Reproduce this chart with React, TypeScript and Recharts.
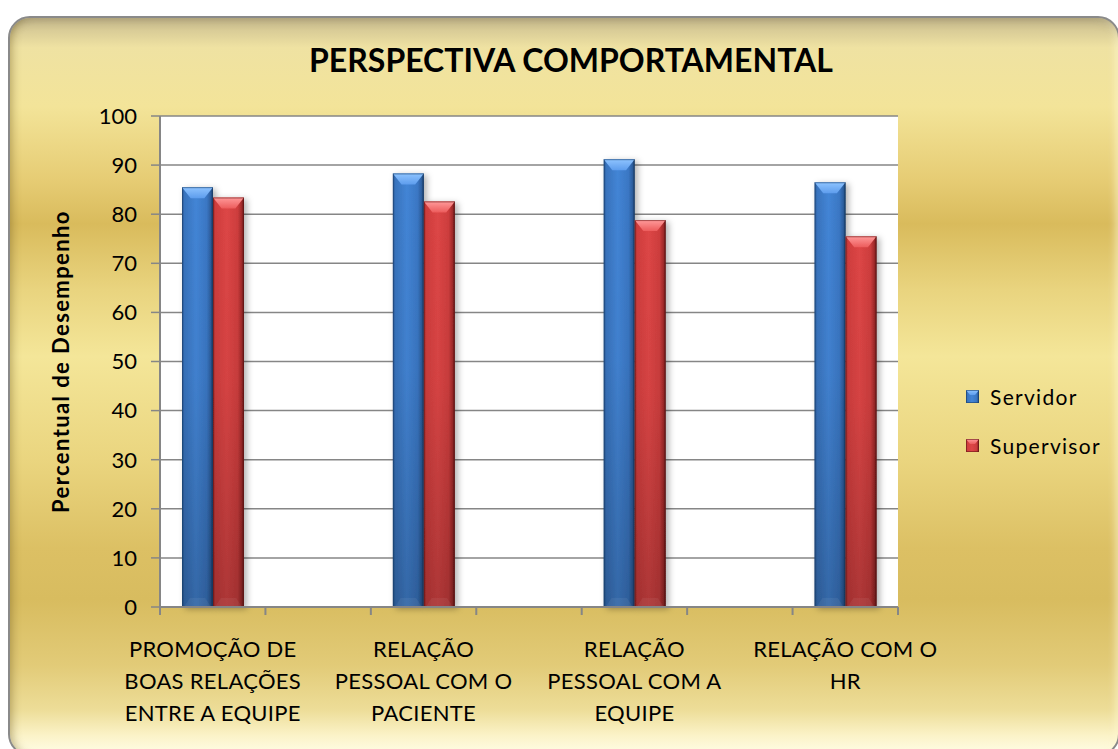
import React from "react";
import { BarChart, Bar, XAxis, YAxis, CartesianGrid, Legend } from "recharts";

// ---- data ----
const categories = [
  "PROMOÇÃO DE\nBOAS RELAÇÕES\nENTRE A EQUIPE",
  "RELAÇÃO\nPESSOAL COM O\nPACIENTE",
  "RELAÇÃO\nPESSOAL COM A\nEQUIPE",
  "RELAÇÃO COM O\nHR",
];
const servidor = [85.5, 88.3, 91.2, 86.5];
const supervisor = [83.4, 82.6, 78.8, 75.5];
const yTicks = [0, 10, 20, 30, 40, 50, 60, 70, 80, 90, 100];
const seriesNames = ["Servidor", "Supervisor"];
const title = "PERSPECTIVA COMPORTAMENTAL";
const yTitle = "Percentual de Desempenho";

// Each category is followed by an empty slot so the groups sit apart.
type Row = { key: string; label: string; servidor?: number; supervisor?: number };
const rows: Row[] = [];
categories.forEach((label, i) => {
  rows.push({ key: `c${i}`, label, servidor: servidor[i], supervisor: supervisor[i] });
  if (i < categories.length - 1) rows.push({ key: `g${i}`, label: "" });
});
const labelByKey: Record<string, string> = {};
rows.forEach((r) => (labelByKey[r.key] = r.label));

const FONT = "Lato, 'Open Sans', sans-serif";
const AXIS = "#868686";

const tones = ["blue", "red"] as const;

const Defs = () => (
  <defs>
    <linearGradient id="body-blue" x1="0" y1="0" x2="1" y2="0">
      <stop offset="0" stopColor="#24528d" />
      <stop offset="0.08" stopColor="#3873bd" />
      <stop offset="0.45" stopColor="#4385d6" />
      <stop offset="0.8" stopColor="#3a77c4" />
      <stop offset="0.93" stopColor="#2c5d9c" />
      <stop offset="1" stopColor="#15325a" />
    </linearGradient>
    <linearGradient id="body-red" x1="0" y1="0" x2="1" y2="0">
      <stop offset="0" stopColor="#a02c2c" />
      <stop offset="0.08" stopColor="#cf3d3d" />
      <stop offset="0.45" stopColor="#dd4646" />
      <stop offset="0.8" stopColor="#cd3d3d" />
      <stop offset="0.93" stopColor="#9e2929" />
      <stop offset="1" stopColor="#561212" />
    </linearGradient>
    <linearGradient id="cap-blue" x1="0" y1="0" x2="0" y2="1">
      <stop offset="0" stopColor="#8ec4ff" />
      <stop offset="1" stopColor="#5e9ded" />
    </linearGradient>
    <linearGradient id="cap-red" x1="0" y1="0" x2="0" y2="1">
      <stop offset="0" stopColor="#ff9a9a" />
      <stop offset="1" stopColor="#ec5c5c" />
    </linearGradient>
    <linearGradient id="bar-shade" x1="0" y1="0" x2="0" y2="1">
      <stop offset="0" stopColor="#000" stopOpacity="0" />
      <stop offset="0.45" stopColor="#000" stopOpacity="0.04" />
      <stop offset="1" stopColor="#000" stopOpacity="0.22" />
    </linearGradient>
    <filter id="bar-shadow" x="-40%" y="-10%" width="180%" height="120%">
      <feDropShadow dx="3" dy="2" stdDeviation="3" floodColor="#000" floodOpacity="0.3" />
    </filter>
  </defs>
);

const CylinderBar = (props: any) => {
  const { x, y, width, height, tone } = props;
  if (!height || height <= 0) return null;
  const cap = Math.min(11, height / 2);
  const edge = tone === "blue" ? "#1d4270" : "#6a1818";
  return (
    <g filter="url(#bar-shadow)">
      <rect x={x} y={y} width={width} height={height} fill={`url(#body-${tone})`} />
      <rect x={x} y={y} width={width} height={height} fill="url(#bar-shade)" />
      <polygon
        points={`${x},${y} ${x + width},${y} ${x + width * 0.72},${y + cap} ${x + width * 0.28},${y + cap}`}
        fill={`url(#cap-${tone})`}
      />
      <polygon
        points={`${x + 2},${y + height} ${x + width - 2},${y + height} ${x + width * 0.75},${y + height - 9} ${x + width * 0.25},${y + height - 9}`}
        fill="#fff"
        opacity={0.06}
      />
      <rect x={x + 0.5} y={y + 0.5} width={width - 1} height={height - 1} fill="none" stroke={edge} strokeOpacity={0.6} />
    </g>
  );
};

const CategoryTick = (props: any) => {
  const { x, y, payload, index } = props;
  const half = payload.offset ?? 0;
  const lines = (labelByKey[payload.value] || "").split("\n").filter((l) => l.length);
  const last = index === rows.length - 1;
  return (
    <g>
      <line x1={x - half} x2={x - half} y1={y} y2={y + 8} stroke={AXIS} strokeWidth={2} />
      {last && <line x1={x + half} x2={x + half} y1={y} y2={y + 8} stroke={AXIS} strokeWidth={2} />}
      <text x={x} y={y} textAnchor="middle" fontFamily={FONT} fontSize={22} letterSpacing={0.3} fill="#000">
        {lines.map((l, i) => (
          <tspan key={i} x={x} dy={i === 0 ? 50 : 32}>
            {l}
          </tspan>
        ))}
      </text>
    </g>
  );
};

const YTitle = (props: any) => {
  const { viewBox } = props;
  const cx = viewBox.x + 60;
  const cy = viewBox.y + viewBox.height / 2;
  return (
    <text
      x={cx}
      y={cy}
      transform={`rotate(-90 ${cx} ${cy})`}
      textAnchor="middle"
      dominantBaseline="central"
      fontFamily={FONT}
      fontWeight={700}
      fontSize={22}
      letterSpacing={1.4}
      fill="#000"
    >
      {yTitle}
    </text>
  );
};

const LegendBox = () => (
  <div style={{ fontFamily: FONT, fontSize: 21, letterSpacing: 1.3, color: "#000" }}>
    {seriesNames.map((name, i) => (
      <div key={name} style={{ display: "flex", alignItems: "center", height: 49 }}>
        <svg width={13} height={13} style={{ marginRight: 11 }}>
          <rect x={0} y={0} width={13} height={13} fill={`url(#body-${tones[i]})`} />
          <polygon points="0,0 13,0 9,5 4,5" fill={`url(#cap-${tones[i]})`} />
          <rect x={0.5} y={0.5} width={12} height={12} fill="none" stroke={tones[i] === "blue" ? "#1d4270" : "#6a1818"} strokeOpacity={0.6} />
        </svg>
        <span>{name}</span>
      </div>
    ))}
  </div>
);

export default function App() {
  return (
    <div style={{ position: "fixed", left: 0, top: 0, width: 1118, height: 749, overflow: "hidden", background: "#fff" }}>
      <div
        style={{
          position: "absolute",
          left: 8,
          top: 16,
          width: 1112,
          height: 740,
          boxSizing: "border-box",
          borderRadius: 22,
          border: "2px solid #8a8a8a",
          background:
            "linear-gradient(to bottom, #c9bc8f 0%, #efe2a2 4%, #f3e499 12%, #e6cc74 22%, #d9bb5c 28%, #e9d47f 37%, #f4e699 46%, #ead57f 60%, #dcc064 72%, #d8bc5f 79%, #e2cb78 88%, #eddd98 94%, #fbf3c8 97.5%, #fffde6 100%)",
          boxShadow:
            "inset 8px 0 10px -6px rgba(110,90,30,0.45), inset 0 10px 10px -8px rgba(90,80,60,0.35), inset -6px 0 8px -4px rgba(255,250,210,0.7)",
        }}
      />
      <div
        style={{
          position: "absolute",
          left: 0,
          top: 40,
          width: 1142,
          textAlign: "center",
          fontFamily: FONT,
          fontWeight: 700,
          fontSize: 32,
          lineHeight: "40px",
          color: "#000",
        }}
      >
        {title}
      </div>
      <div style={{ position: "absolute", left: 0, top: 0 }}>
        <BarChart
          width={1118}
          height={749}
          data={rows}
          margin={{ top: 116, right: 220, bottom: 112, left: 0 }}
          barGap={0}
          barSize={31}
        >
          <Defs />
          <CartesianGrid vertical={false} stroke={AXIS} strokeWidth={1.5} fill="#fff" />
          <XAxis
            dataKey="key"
            interval={0}
            height={30}
            tickSize={0}
            tickMargin={0}
            tickLine={false}
            axisLine={{ stroke: AXIS, strokeWidth: 2 }}
            tick={<CategoryTick />}
          />
          <YAxis
            width={160}
            domain={[0, 100]}
            ticks={yTicks}
            interval={0}
            tickSize={9}
            tickMargin={14}
            tickLine={{ stroke: AXIS, strokeWidth: 1.5 }}
            axisLine={{ stroke: AXIS, strokeWidth: 2 }}
            tick={{ fontFamily: FONT, fontSize: 22, fill: "#000" }}
            label={<YTitle />}
          />
          <Legend
            layout="horizontal"
            verticalAlign="middle"
            align="center"
            wrapperStyle={{ left: 966, top: 372, width: 152 }}
            content={<LegendBox />}
          />
          <Bar dataKey="servidor" name={seriesNames[0]} isAnimationActive={false} shape={(p: any) => <CylinderBar {...p} tone="blue" />} />
          <Bar dataKey="supervisor" name={seriesNames[1]} isAnimationActive={false} shape={(p: any) => <CylinderBar {...p} tone="red" />} />
        </BarChart>
      </div>
    </div>
  );
}
